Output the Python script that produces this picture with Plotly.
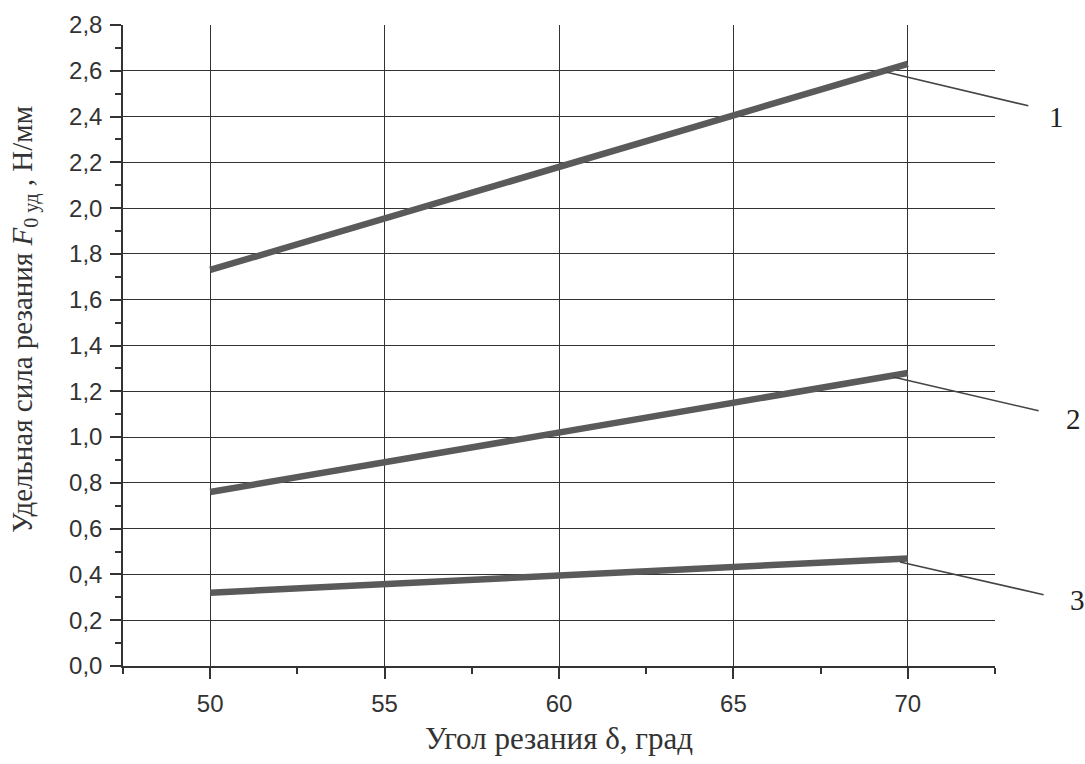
import plotly.graph_objects as go

angles = [50, 70]
series_1 = [1.73, 2.63]
series_2 = [0.76, 1.28]
series_3 = [0.32, 0.47]
series_names = ["1", "2", "3"]
leader_head_x = [69.4, 69.58, 69.78]
leader_head_y = [2.594, 1.262, 0.454]

x_ticks = [50, 55, 60, 65, 70]
y_ticks = [round(0.2 * i, 1) for i in range(15)]

fig = go.Figure()
for ys in (series_1, series_2, series_3):
    fig.add_trace(go.Scatter(x=angles, y=ys, mode="lines",
                             line=dict(color="#5a5a5a", width=6.5),
                             showlegend=False, hoverinfo="skip"))

tail_offsets = [(143, 34), (147, 34), (145, 33)]
label_offsets = [(170, 45), (180, 42), (177, 38)]
for name, hx, hy, (tx, ty), (lx, ly) in zip(series_names, leader_head_x, leader_head_y,
                                            tail_offsets, label_offsets):
    fig.add_annotation(x=hx, y=hy, xref="x", yref="y", text="",
                       showarrow=True, arrowhead=0, arrowwidth=1.6, arrowcolor="#444",
                       ax=tx, ay=ty, axref="pixel", ayref="pixel")
    fig.add_annotation(x=hx, y=hy, xref="x", yref="y", text=name, showarrow=False,
                       xshift=lx, yshift=-ly, xanchor="center", yanchor="middle",
                       font=dict(family="Liberation Serif", size=29, color="#222"))

fig.add_annotation(x=-99 / 872, y=(666 - 320) / 641, xref="paper", yref="paper",
                   text="Удельная сила резания <i>F</i><sub>0 уд</sub> , Н/мм",
                   textangle=-90, showarrow=False, xanchor="center", yanchor="middle",
                   font=dict(family="Liberation Serif", size=29, color="#333"))

fig.update_layout(
    width=1085, height=764,
    margin=dict(l=123, r=90, t=25, b=98),
    paper_bgcolor="white", plot_bgcolor="white",
    separators=", ",
    showlegend=False,
    xaxis=dict(range=[47.5, 72.5], tickvals=x_ticks, showline=True, linecolor="#333", linewidth=1.5,
               ticks="outside", ticklen=11, tickwidth=1.5, tickcolor="#333",
               ticklabelstandoff=4,
               tickfont=dict(family="Liberation Sans", size=24, color="#333"),
               showgrid=True, gridcolor="#333", gridwidth=1.2, zeroline=False,
               minor=dict(dtick=2.5, tick0=47.5, ticks="outside", ticklen=6, tickcolor="#333", tickwidth=1.5, showgrid=False),
               title=dict(text="Угол резания δ, град", standoff=12,
                          font=dict(family="Liberation Serif", size=31, color="#333"))),
    yaxis=dict(range=[0, 2.8], tickvals=y_ticks, tickformat=".1f", showline=True, linecolor="#333", linewidth=1.5,
               ticks="outside", ticklen=11, tickwidth=1.5, tickcolor="#333",
               ticklabelstandoff=3,
               tickfont=dict(family="Liberation Sans", size=24, color="#333"),
               showgrid=True, gridcolor="#333", gridwidth=1.2, zeroline=False,
               minor=dict(dtick=0.1, tick0=0, ticks="outside", ticklen=6, tickcolor="#333", tickwidth=1.5, showgrid=False)),
)

fig.write_html("out.html", config={"displayModeBar": False},
               post_script="document.body.style.margin='0px';")
